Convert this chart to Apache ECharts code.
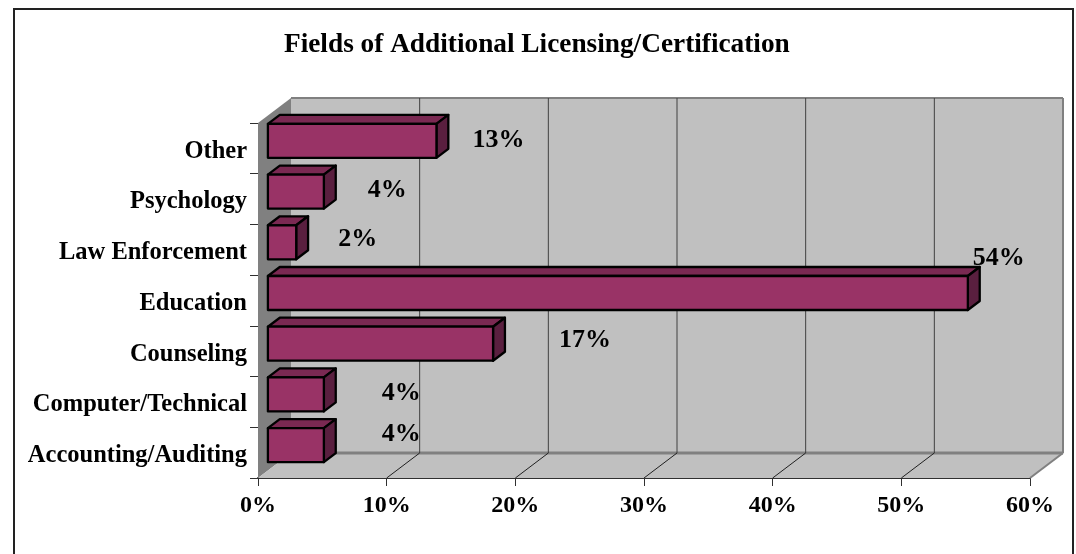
<!DOCTYPE html>
<html>
<head>
<meta charset="utf-8">
<title>Fields of Additional Licensing/Certification</title>
<style>
  html, body { margin: 0; padding: 0; background: #fff; }
  #chart { width: 1076px; height: 554px; }
</style>
<script src="https://cdn.jsdelivr.net/npm/echarts@6/dist/echarts.min.js"></script>
</head>
<body>
<div id="chart"></div>
<script>
const categories = ["Accounting/Auditing", "Computer/Technical", "Counseling", "Education", "Law Enforcement", "Psychology", "Other"];
const barValues = [4.35, 4.35, 17.5, 54.4, 2.2, 4.35, 13.1];
const barLabels = ["4%", "4%", "17%", "54%", "2%", "4%", "13%"];
const xTicks = [0, 10, 20, 30, 40, 50, 60];

// where each value label sits relative to the bar end, the original has them hand dragged
const labelShift = [[58, -18], [58, -9], [66, -11], [5, -42], [42, -11], [44, -9], [36, -8]];

const serif = '"Liberation Serif", "Times New Roman", serif';
const depth = [33, -25]; // 3d box depth of the plot
const barNear = 0.3, barFar = 0.66; // bar front and back inside that depth
const barHeight = 34;

function edge(x1, y1, x2, y2, color, width) {
  return { type: "line", shape: { x1, y1, x2, y2 }, style: { stroke: color, lineWidth: width } };
}
function poly(points, fill, stroke) {
  return {
    type: "polygon",
    shape: { points },
    style: { fill, stroke: stroke || "none", lineWidth: stroke ? 2.3 : 0, lineJoin: "round" },
  };
}

// side wall, back wall and floor
function renderWalls(params, api) {
  const a = api.coord([0, 0]);
  const size = api.size([0, 1]);
  const x0 = a[0];
  const x1 = api.coord([60, 0])[0];
  const yBottom = a[1] + size[1] / 2;
  const yTop = api.coord([0, categories.length - 1])[1] - size[1] / 2;
  const dx = depth[0], dy = depth[1];
  return {
    type: "group",
    children: [
      poly([[x0, yTop], [x0 + dx, yTop + dy], [x0 + dx, yBottom + dy], [x0, yBottom]], "#808080"),
      poly([[x0 + dx, yTop + dy], [x1 + dx, yTop + dy], [x1 + dx, yBottom + dy], [x0 + dx, yBottom + dy]], "#c0c0c0"),
      poly([[x0, yBottom], [x1, yBottom], [x1 + dx, yBottom + dy], [x0 + dx, yBottom + dy]], "#c0c0c0"),
      edge(x0 + dx, yTop + dy, x1 + dx, yTop + dy, "#808080", 2),
      edge(x1 + dx, yTop + dy, x1 + dx, yBottom + dy, "#808080", 2),
      edge(x0 + dx, yBottom + dy, x1 + dx, yBottom + dy, "#808080", 3),
      edge(x1, yBottom, x1 + dx, yBottom + dy, "#808080", 2),
    ],
  };
}

// one gridline: up the back wall plus the slant across the floor
function renderGrid(params, api) {
  const size = api.size([0, 1]);
  const p = api.coord([api.value(0), 0]);
  const x = p[0];
  const yBottom = p[1] + size[1] / 2;
  const yTop = api.coord([0, categories.length - 1])[1] - size[1] / 2;
  const dx = depth[0], dy = depth[1];
  return {
    type: "group",
    children: [
      edge(x + dx, yTop + dy, x + dx, yBottom + dy, "#404040", 1),
      edge(x, yBottom, x + dx, yBottom + dy, "#202020", 1),
    ],
  };
}

function renderBar(params, api) {
  const start = api.coord([0, api.value(1)]);
  const end = api.coord([api.value(0), api.value(1)]);
  const nx = depth[0] * barNear, ny = depth[1] * barNear;
  const bx = depth[0] * (barFar - barNear), by = depth[1] * (barFar - barNear);
  const left = start[0] + nx;
  const right = end[0] + nx;
  const top = start[1] + ny - barHeight / 2;
  const bottom = top + barHeight;
  const shift = labelShift[params.dataIndex];
  return {
    type: "group",
    children: [
      poly([[left, top], [left + bx, top + by], [right + bx, top + by], [right, top]], "#7a2952", "#000"),
      poly([[right, top], [right + bx, top + by], [right + bx, bottom + by], [right, bottom]], "#5a1f3f", "#000"),
      poly([[left, top], [right, top], [right, bottom], [left, bottom]], "#993366", "#000"),
      {
        type: "text",
        style: {
          x: right + shift[0],
          y: start[1] + shift[1],
          text: barLabels[params.dataIndex],
          font: 'bold 26px ' + serif,
          fill: "#000",
          align: "left",
          verticalAlign: "middle",
        },
      },
    ],
  };
}

const chart = echarts.init(document.getElementById("chart"));
chart.setOption({
  animation: false,
  backgroundColor: "#fff",
  title: {
    text: "Fields of Additional Licensing/Certification",
    left: 279,
    top: 26,
    textStyle: { fontFamily: serif, fontWeight: "bold", fontSize: 27.3, color: "#000" },
  },
  grid: { left: 258, top: 123, width: 772, height: 355 },
  xAxis: {
    type: "value",
    min: 0,
    max: 60,
    interval: 10,
    axisLine: { show: true, lineStyle: { color: "#303030", width: 2 } },
    axisTick: { show: true, length: 8, lineStyle: { color: "#303030", width: 1 } },
    axisLabel: {
      margin: 16,
      formatter: "{value}%",
      fontFamily: serif,
      fontWeight: "bold",
      fontSize: 24,
      color: "#000",
    },
    splitLine: { show: false },
  },
  yAxis: {
    type: "category",
    data: categories,
    axisLine: { show: false },
    axisTick: { show: true, length: 8, lineStyle: { color: "#303030", width: 1 } },
    axisLabel: {
      margin: 11,
      formatter: (v) => "{cat|" + v + "}",
      rich: {
        cat: {
          padding: [6, 0, 0, 0],
          fontFamily: serif,
          fontWeight: "bold",
          fontSize: 24.5,
          color: "#000",
        },
      },
    },
  },
  series: [
    { type: "custom", renderItem: renderWalls, data: [[0, 0]], silent: true, z: 1 },
    {
      type: "custom",
      renderItem: renderGrid,
      data: xTicks.slice(1, -1).map((t) => [t, 0]),
      silent: true,
      z: 2,
    },
    {
      type: "custom",
      renderItem: renderBar,
      data: barValues.map((v, i) => [v, i]),
      encode: { x: 0, y: 1 },
      z: 3,
    },
  ],
  graphic: [
    {
      type: "rect",
      silent: true,
      shape: { x: 14, y: 9, width: 1059, height: 560 },
      style: { fill: "none", stroke: "#222", lineWidth: 2 },
      z: 100,
    },
  ],
});
</script>
</body>
</html>
